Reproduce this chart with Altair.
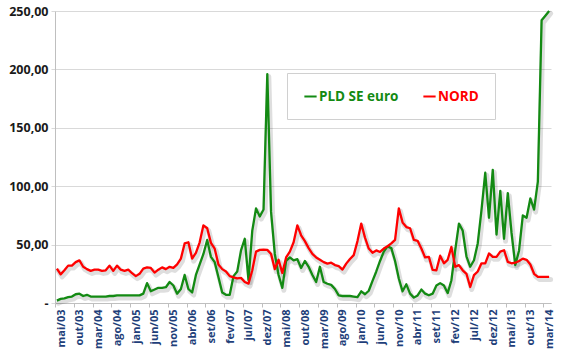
import altair as alt
import pandas as pd

# ---- data (monthly, mai/03 .. abr/14) ----
series_names = ["PLD SE euro", "NORD"]
series_colors = ["#138A13", "#FF0000"]

pld_se_euro = [
    2, 3.5, 4, 5, 5.5, 7.5, 8, 6, 7, 5.5, 5.5, 5.5,
    5.5, 5.5, 6, 6, 6.5, 6.5, 6.5, 6.5, 6.5, 6.5, 6.5, 8,
    17, 10, 11.5, 13, 13, 13.5, 18, 15, 8, 12, 24, 12,
    9, 24, 33, 42, 54, 39.5, 35, 22, 9, 7, 7, 23,
    27, 45, 55, 19.5, 62, 81, 74, 80, 196, 78, 42, 24,
    13, 36, 39, 36.5, 37.5, 30, 36, 31, 24, 18, 31, 18,
    16.5, 15.5, 12, 6.5, 6, 6, 6, 5.5, 5, 10, 7.5, 10.5,
    19, 27, 36, 44, 48.5, 47, 36, 21, 10, 16, 8, 4.6,
    6.5, 11.5, 8, 6.6, 8, 15, 17, 15, 8.5, 19.5, 45, 68,
    62, 40, 31, 36.6, 51, 79.5, 111.5, 73, 114, 58.6, 96, 55,
    94, 60, 32.5, 45, 75, 73, 89.5, 80, 104, 242, 246, 250,
]

nord = [
    29.5, 24.5, 28, 32, 32, 35, 36.5, 31, 29, 27.5, 28.5, 28.5,
    27.5, 28, 32, 27.5, 32, 28.5, 27.5, 28.5, 25.5, 23, 25, 29.5,
    30.5, 30, 26, 28.5, 30.5, 29, 31, 30, 33, 38, 51, 52,
    38, 43, 52, 66.5, 64, 51.5, 46.5, 33, 29, 27, 23, 22,
    21, 21.5, 18, 16.6, 28, 44, 45.5, 45.7, 45.5, 42, 29, 37,
    25.7, 39, 44, 52, 66.5, 58, 53, 47, 42, 39, 37, 35,
    33.7, 34.5, 32.5, 31.5, 28.6, 33.7, 37.7, 41, 53, 68, 56, 46.6,
    43, 45, 43.7, 46.6, 48.6, 51, 54, 81, 69, 65, 64, 54,
    53.2, 46.6, 39, 39.5, 28.3, 28, 40.5, 34, 37, 48, 31, 32.4,
    28, 25, 13.7, 23.9, 27, 34, 34, 42.4, 39.5, 39.5, 44, 45.2,
    35.2, 34, 34.5, 36, 38, 37, 33, 25, 22.3, 22.3, 22.3, 22.3,
]

tick_labels = [
    "mai/03", "out/03", "mar/04", "ago/04", "jan/05", "jun/05", "nov/05",
    "abr/06", "set/06", "fev/07", "jul/07", "dez/07", "mai/08", "out/08",
    "mar/09", "ago/09", "jan/10", "jun/10", "nov/10", "abr/11", "set/11",
    "fev/12", "jul/12", "dez/12", "mai/13", "out/13", "mar/14",
]
y_ticks = [0, 50, 100, 150, 200, 250]

rows = []
for name, vals in zip(series_names, [pld_se_euro, nord]):
    for i, v in enumerate(vals):
        rows.append({"serie": name, "mes": i + 0.5, "valor": v})
df = pd.DataFrame(rows)

n_months = len(pld_se_euro)
tick_values = [5 * k for k in range(len(tick_labels))]
label_expr = "[" + ",".join("'%s'" % t for t in tick_labels) + "][round(datum.value / 5)]"

x_enc = alt.X(
    "mes:Q",
    scale=alt.Scale(domain=[0, n_months], nice=False, zero=False),
    axis=alt.Axis(
        values=tick_values,
        labelExpr=label_expr,
        labelAngle=-90,
        labelBaseline="top",
        labelAlign="right",
        labelFont="Open Sans",
        labelFontWeight="bold",
        labelFontSize=11,
        labelColor="#1F3F7A",
        labelPadding=2,
        labelOverlap=False,
        labelBound=False,
        labelFlush=False,
        tickSize=4,
        tickColor="#BFBFBF",
        domainColor="#BFBFBF",
        grid=False,
        title=None,
    ),
)
y_enc = alt.Y(
    "valor:Q",
    scale=alt.Scale(domain=[0, 250], nice=False),
    axis=alt.Axis(
        values=y_ticks,
        labelExpr="datum.value == 0 ? '-' : replace(format(datum.value, '.2f'), '.', ',')",
        labelFont="Open Sans",
        labelFontWeight="bold",
        labelFontSize=12.5,
        labelColor="#1A1A1A",
        labelPadding=3,
        tickSize=4,
        tickColor="#D9D9D9",
        domainColor="#BFBFBF",
        gridColor="#D9D9D9",
        gridWidth=1,
        title=None,
    ),
)

base = alt.Chart(df)

shadow = base.mark_line(
    strokeWidth=5, color="#000000", opacity=0.13, xOffset=1.5, yOffset=2.5,
    strokeJoin="round", strokeCap="round",
).encode(x=x_enc, y=y_enc, detail="serie:N")

lines = base.mark_line(strokeWidth=2.3, strokeJoin="round").encode(
    x=x_enc,
    y=y_enc,
    color=alt.Color(
        "serie:N",
        scale=alt.Scale(domain=series_names, range=series_colors),
        sort=series_names,
        legend=alt.Legend(
            orient="none",
            legendX=232,
            legendY=62,
            direction="horizontal",
            title=None,
            symbolType="stroke",
            symbolStrokeWidth=2,
            symbolSize=150,
            labelFont="Open Sans",
            labelFontWeight="bold",
            labelFontSize=13.5,
            labelColor={"expr": "datum.value === 'NORD' ? '#FF0000' : '#138A13'"},
            labelOffset=1,
            fillColor="white",
            strokeColor="#D0D0D0",
            padding=16,
            columnPadding=20,
        ),
    ),
)

chart = (
    alt.layer(shadow, lines)
    .properties(
        width=496,
        height=292,
        autosize=alt.AutoSizeParams(type="none"),
        padding={"left": 55, "top": 11, "right": 16, "bottom": 49},
        background="white",
    )
    .configure_view(stroke=None)
)

chart.save("out.html", embed_options={"renderer": "svg", "actions": False})
